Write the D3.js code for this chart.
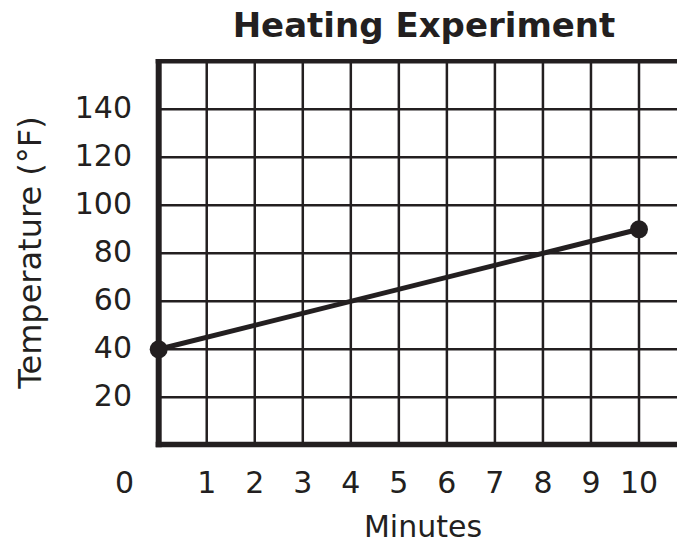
<!DOCTYPE html>
<html>
<head>
<meta charset="utf-8">
<script src="https://cdn.jsdelivr.net/npm/d3@7"></script>
<style>
  html, body { margin: 0; padding: 0; background: #fff; }
  svg { display: block; }
  text { font-family: "DejaVu Sans", Verdana, sans-serif; fill: #231f20; }
</style>
</head>
<body>
<svg id="chart" width="677" height="546"></svg>
<script>
const title = "Heating Experiment";
const xLabel = "Minutes";
const yLabel = "Temperature (°F)";
const minutes = [0, 10];
const temperatures = [40, 90];
const xTicks = [1, 2, 3, 4, 5, 6, 7, 8, 9, 10];
const yTicks = [20, 40, 60, 80, 100, 120, 140];
const xDomain = [0, 10];
const yDomain = [0, 160];

const ink = "#231f20";
const svg = d3.select("#chart");

const x = d3.scaleLinear().domain(xDomain).range([158.7, 639]);
const y = d3.scaleLinear().domain(yDomain).range([445.3, 61.3]);
const xRightEdge = 677;

// grid: vertical
svg.append("g").selectAll("line").data(xTicks).join("line")
  .attr("x1", d => x(d)).attr("x2", d => x(d))
  .attr("y1", y(yDomain[1])).attr("y2", y(0))
  .attr("stroke", ink).attr("stroke-width", 2.5);

// grid: horizontal
svg.append("g").selectAll("line").data(yTicks).join("line")
  .attr("x1", x(0)).attr("x2", xRightEdge)
  .attr("y1", d => y(d)).attr("y2", d => y(d))
  .attr("stroke", ink).attr("stroke-width", 2.5);

// top border
svg.append("line")
  .attr("x1", x(0) - 3).attr("x2", xRightEdge)
  .attr("y1", y(yDomain[1])).attr("y2", y(yDomain[1]))
  .attr("stroke", ink).attr("stroke-width", 4.5);

// bottom axis
svg.append("line")
  .attr("x1", x(0) - 3).attr("x2", xRightEdge)
  .attr("y1", y(0) - 0.8).attr("y2", y(0) - 0.8)
  .attr("stroke", ink).attr("stroke-width", 5.5);

// left axis
svg.append("line")
  .attr("x1", x(0)).attr("x2", x(0))
  .attr("y1", y(yDomain[1]) - 2.2).attr("y2", y(0) + 2)
  .attr("stroke", ink).attr("stroke-width", 6);

// y tick labels
svg.append("g").selectAll("text").data(yTicks).join("text")
  .attr("x", 132).attr("y", d => y(d) + 8.5)
  .attr("text-anchor", "end")
  .style("font-size", "30px")
  .text(d => d);

// x tick labels
svg.append("g").selectAll("text").data(xTicks).join("text")
  .attr("x", d => x(d)).attr("y", 493)
  .attr("text-anchor", "middle")
  .style("font-size", "30px")
  .text(d => d);

// origin label
svg.append("text")
  .attr("x", 124.5).attr("y", 493)
  .attr("text-anchor", "middle")
  .style("font-size", "30px")
  .text("0");

// data line
const pts = minutes.map((m, i) => [m, temperatures[i]]);
svg.append("path")
  .datum(pts)
  .attr("fill", "none")
  .attr("stroke", ink)
  .attr("stroke-width", 5)
  .attr("d", d3.line().x(d => x(d[0])).y(d => y(d[1])));

svg.append("g").selectAll("circle").data(pts).join("circle")
  .attr("cx", d => x(d[0])).attr("cy", d => y(d[1]))
  .attr("r", 9)
  .attr("fill", ink);

// title
svg.append("text")
  .attr("x", 424).attr("y", 37)
  .attr("text-anchor", "middle")
  .style("font-size", "34px").style("font-weight", "bold")
  .text(title);

// x label
svg.append("text")
  .attr("x", 423).attr("y", 537)
  .attr("text-anchor", "middle")
  .style("font-size", "30px")
  .text(xLabel);

// y label
svg.append("text")
  .attr("transform", "translate(41,252.5) rotate(-90)")
  .attr("text-anchor", "middle")
  .style("font-size", "32px")
  .text(yLabel);
</script>
</body>
</html>
